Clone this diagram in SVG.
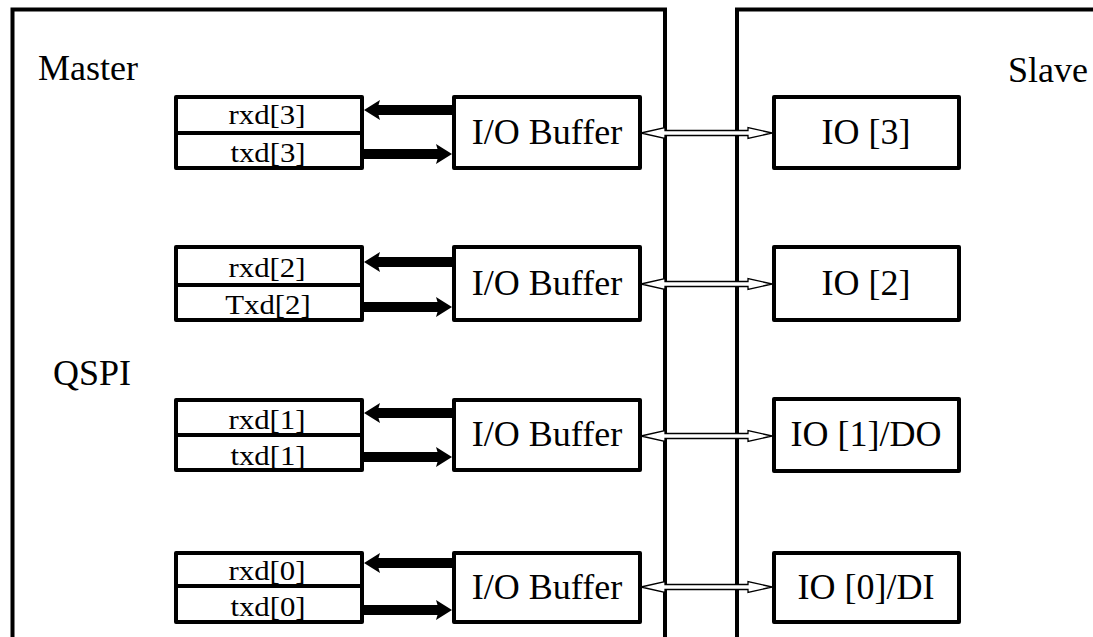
<svg xmlns="http://www.w3.org/2000/svg" xmlns:xlink="http://www.w3.org/1999/xlink" width="1093" height="637" viewBox="0 0 1093 637">
<style>
.frame{fill:none;stroke:#000;stroke-width:4;}
.box{fill:#fff;stroke:#000;stroke-width:4;stroke-linejoin:round;}
.div{stroke:#000;stroke-width:4;}
.t{font-family:"Liberation Serif","Times New Roman",serif;fill:#000;}
.big{font-size:36px;}
.sm{font-size:28px;}
.mid{text-anchor:middle;}
.thick{fill:#000;stroke:none;}
.hollow{fill:#fff;stroke:#000;stroke-width:1.3;stroke-linejoin:miter;}
</style>
<defs>
<path id="la" d="M0,0 L16,-10 L14.5,-5 L88,-5 L88,5 L14.5,5 L16,10 Z"/>
<path id="ra" d="M0,0 L-16,-10 L-14.5,-5 L-88,-5 L-88,5 L-14.5,5 L-16,10 Z"/>
<path id="da" d="M0,0 L24,-5.5 L24,-2.5 L107,-2.5 L107,-5.5 L131,0 L107,5.5 L107,2.5 L24,2.5 L24,5.5 Z"/>
</defs>
<rect width="1093" height="637" fill="#fff"/>

<g id="master">
<rect class="frame" x="12.5" y="9.5" width="652.5" height="700"/>
<text class="t big" x="38" y="80">Master</text>
<text class="t big" x="53" y="385">QSPI</text>
</g>
<g id="slave">
<rect class="frame" x="737" y="9.5" width="500" height="700"/>
<text class="t big" x="1008" y="82">Slave</text>
</g>

<g id="connectors">
<use href="#la" class="thick" x="364" y="110"/>
<use href="#ra" class="thick" x="452" y="154"/>
<use href="#da" class="hollow" x="641" y="133"/>
<use href="#la" class="thick" x="364" y="262"/>
<use href="#ra" class="thick" x="452" y="307"/>
<use href="#da" class="hollow" x="641" y="284"/>
<use href="#la" class="thick" x="364" y="413"/>
<use href="#ra" class="thick" x="452" y="457"/>
<use href="#da" class="hollow" x="641" y="436"/>
<use href="#la" class="thick" x="364" y="563"/>
<use href="#ra" class="thick" x="452" y="610"/>
<use href="#da" class="hollow" x="641" y="587"/>
</g>

<g id="reg3">
<rect class="box" x="176" y="97" width="186" height="71"/>
<line class="div" x1="176" y1="133" x2="362" y2="133"/>
<text class="t sm mid" transform="matrix(1.1 0 0 1 267 124)">rxd[3]</text>
<text class="t sm mid" transform="matrix(1.1 0 0 1 268 162)">txd[3]</text>
</g>
<g id="buf3">
<rect class="box" x="454" y="97" width="186" height="71"/>
<text class="t big mid" x="547" y="144">I/O Buffer</text>
</g>
<g id="io3">
<rect class="box" x="774" y="97" width="185" height="71"/>
<text class="t big mid" x="866" y="144">IO [3]</text>
</g>

<g id="reg2">
<rect class="box" x="176" y="247" width="186" height="73"/>
<line class="div" x1="176" y1="285" x2="362" y2="285"/>
<text class="t sm mid" transform="matrix(1.1 0 0 1 267 277)">rxd[2]</text>
<text class="t sm mid" transform="matrix(1.1 0 0 1 268 314)">Txd[2]</text>
</g>
<g id="buf2">
<rect class="box" x="454" y="247" width="186" height="73"/>
<text class="t big mid" x="547" y="295">I/O Buffer</text>
</g>
<g id="io2">
<rect class="box" x="774" y="247" width="185" height="73"/>
<text class="t big mid" x="866" y="295">IO [2]</text>
</g>

<g id="reg1">
<rect class="box" x="176" y="400" width="186" height="70"/>
<line class="div" x1="176" y1="435" x2="362" y2="435"/>
<text class="t sm mid" transform="matrix(1.1 0 0 1 267 429)">rxd[1]</text>
<text class="t sm mid" transform="matrix(1.1 0 0 1 268 465)">txd[1]</text>
</g>
<g id="buf1">
<rect class="box" x="454" y="400" width="186" height="70"/>
<text class="t big mid" x="547" y="446">I/O Buffer</text>
</g>
<g id="io1">
<rect class="box" x="774" y="399" width="185" height="72"/>
<text class="t big mid" x="866" y="446">IO [1]/DO</text>
</g>

<g id="reg0">
<rect class="box" x="176" y="553" width="186" height="69"/>
<line class="div" x1="176" y1="586" x2="362" y2="586"/>
<text class="t sm mid" transform="matrix(1.1 0 0 1 267 580)">rxd[0]</text>
<text class="t sm mid" transform="matrix(1.1 0 0 1 268 616)">txd[0]</text>
</g>
<g id="buf0">
<rect class="box" x="454" y="553" width="186" height="69"/>
<text class="t big mid" x="547" y="599">I/O Buffer</text>
</g>
<g id="io0">
<rect class="box" x="774" y="553" width="185" height="69"/>
<text class="t big mid" x="866" y="599">IO [0]/DI</text>
</g>
</svg>
